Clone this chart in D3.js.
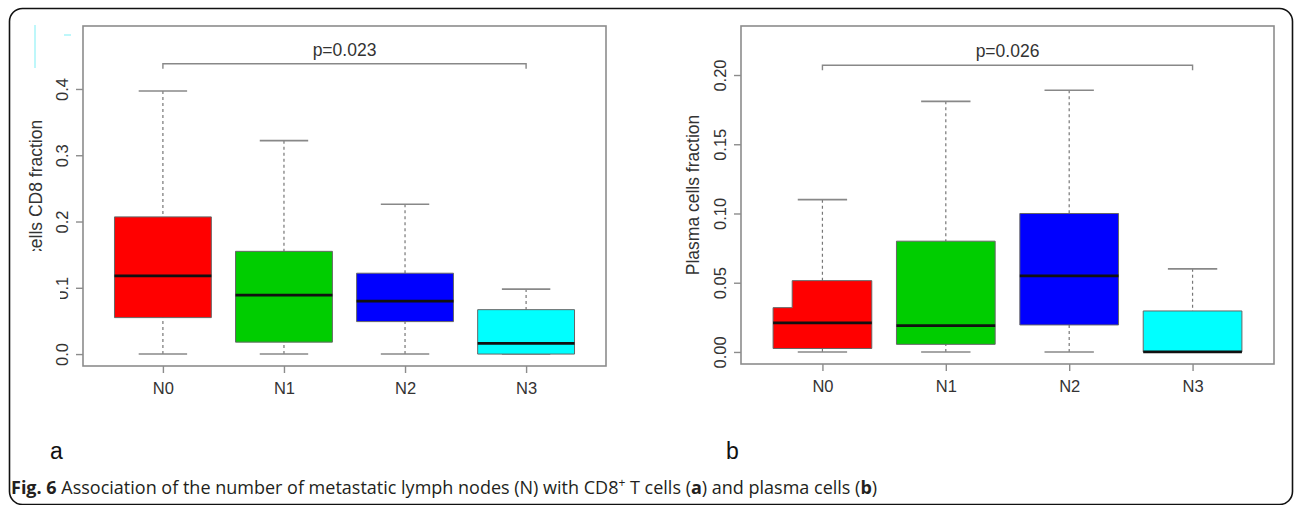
<!DOCTYPE html>
<html>
<head>
<meta charset="utf-8">
<script src="https://cdn.jsdelivr.net/npm/d3@7/dist/d3.min.js"></script>
<style>
  body { margin: 0; background: #fff; }
  svg { display: block; font-family: "Liberation Sans", Arial, sans-serif; }
</style>
</head>
<body>
<svg id="chart" width="1295" height="505"></svg>
<script>
// categories (number of metastatic lymph nodes)
var groups = ["N0", "N1", "N2", "N3"];
var boxColors = ["#ff0000", "#00cd00", "#0000ff", "#00ffff"];

// panel a: T cells CD8 fraction  [low whisker, q1, median, q3, high whisker]
var cd8Low    = [0, 0, 0, 0];
var cd8Q1     = [0.055, 0.018, 0.049, 0];
var cd8Median = [0.118, 0.089, 0.080, 0.016];
var cd8Q3     = [0.207, 0.155, 0.122, 0.067];
var cd8High   = [0.397, 0.322, 0.226, 0.098];
var cd8Ticks  = [0, 0.1, 0.2, 0.3, 0.4];

// panel b: Plasma cells fraction
var plasmaLow    = [0, 0, 0, 0];
var plasmaQ1     = [0.0025, 0.0055, 0.0195, 0];
var plasmaMedian = [0.021, 0.019, 0.055, 0];
var plasmaQ3     = [0.0515, 0.080, 0.100, 0.0296];
var plasmaHigh   = [0.110, 0.181, 0.189, 0.060];
var plasmaTicks  = [0, 0.05, 0.1, 0.15, 0.2];

// significance brackets (N0 vs N3)
var pLabels = ["p=0.023", "p=0.026"];
var bracketLevel = [0.438, 0.207];

var svg = d3.select("#chart");

// outer frame
svg.append("rect")
  .attr("x", 9.5).attr("y", 8.5).attr("width", 1283).attr("height", 496)
  .attr("rx", 13)
  .attr("fill", "none").attr("stroke", "#111").attr("stroke-width", 1.6);

// leftover cyan marks top-left
svg.append("line").attr("x1", 35).attr("x2", 35).attr("y1", 25).attr("y2", 68)
  .attr("stroke", "#a8f4f8").attr("stroke-width", 1.5);
svg.append("line").attr("x1", 64).attr("x2", 71).attr("y1", 35).attr("y2", 35)
  .attr("stroke", "#a8f4f8").attr("stroke-width", 1.5);

function drawPanel(opt) {
  var x = d3.scaleLinear().domain([0.34, 4.66]).range([opt.left, opt.right]);
  var y = d3.scaleLinear().domain(opt.yDomain).range([opt.bottom, opt.top]);
  var g = svg.append("g");
  var half = 0.4, capHalf = 0.2;

  var data = groups.map(function(name, i) {
    return { name: name, i: i + 1, low: opt.low[i], q1: opt.q1[i], med: opt.med[i],
             q3: opt.q3[i], high: opt.high[i], color: boxColors[i] };
  });

  // whiskers
  g.selectAll(".wh").data(data).enter().append("line")
    .attr("x1", function(d) { return x(d.i); }).attr("x2", function(d) { return x(d.i); })
    .attr("y1", function(d) { return y(d.high); }).attr("y2", function(d) { return y(d.q3); })
    .attr("stroke", "#777").attr("stroke-width", 1.2).attr("stroke-dasharray", "3,3");
  g.selectAll(".wl").data(data).enter().append("line")
    .attr("x1", function(d) { return x(d.i); }).attr("x2", function(d) { return x(d.i); })
    .attr("y1", function(d) { return y(d.low); }).attr("y2", function(d) { return y(d.q1); })
    .attr("stroke", "#777").attr("stroke-width", 1.2).attr("stroke-dasharray", "3,3");
  // caps
  ["high", "low"].forEach(function(k) {
    g.selectAll(".cap-" + k).data(data).enter().append("line")
      .attr("x1", function(d) { return x(d.i - capHalf); })
      .attr("x2", function(d) { return x(d.i + capHalf); })
      .attr("y1", function(d) { return y(d[k]); }).attr("y2", function(d) { return y(d[k]); })
      .attr("stroke", "#888").attr("stroke-width", 1.6);
  });

  // boxes (optionally with a cut-away corner as in the original image)
  g.selectAll(".box").data(data).enter().append("path")
    .attr("d", function(d) {
      var x0 = x(d.i - half), x1 = x(d.i + half), yt = y(d.q3), yb = y(d.q1);
      if (opt.notch && opt.notch.index === d.i - 1) {
        var xn = x(d.i - half + opt.notch.width), yn = y(opt.notch.level);
        return "M" + x0 + "," + yb + "L" + x0 + "," + yn + "L" + xn + "," + yn +
               "L" + xn + "," + yt + "L" + x1 + "," + yt + "L" + x1 + "," + yb + "Z";
      }
      return "M" + x0 + "," + yb + "L" + x0 + "," + yt + "L" + x1 + "," + yt + "L" + x1 + "," + yb + "Z";
    })
    .attr("fill", function(d) { return d.color; })
    .attr("stroke", "#666").attr("stroke-width", 1);

  // medians
  g.selectAll(".med").data(data).enter().append("line")
    .attr("x1", function(d) { return x(d.i - half); }).attr("x2", function(d) { return x(d.i + half); })
    .attr("y1", function(d) { return y(d.med); }).attr("y2", function(d) { return y(d.med); })
    .attr("stroke", "#111").attr("stroke-width", 2.8);

  // plot frame
  g.append("rect")
    .attr("x", opt.left).attr("y", opt.top)
    .attr("width", opt.right - opt.left).attr("height", opt.bottom - opt.top)
    .attr("fill", "none").attr("stroke", "#8c8c8c").attr("stroke-width", 1.6);

  // y axis (R style, rotated labels)
  var ya = g.append("g").attr("transform", "translate(" + opt.left + ",0)")
    .call(d3.axisLeft(y).tickValues(opt.ticks).tickFormat(d3.format(opt.fmt)).tickSize(7));
  ya.select(".domain").remove();
  ya.selectAll(".tick line").attr("stroke", "#8c8c8c").attr("stroke-width", 1.4);
  ya.selectAll(".tick text")
    .attr("x", 0).attr("y", -15).attr("dy", 0)
    .attr("transform", "rotate(-90)")
    .attr("text-anchor", "middle")
    .attr("fill", "#333").style("font-size", "16.5px")
    .style("font-family", "'Liberation Sans', Arial, sans-serif");

  // x axis
  var xa = g.append("g").attr("transform", "translate(0," + opt.bottom + ")")
    .call(d3.axisBottom(x).tickValues([1, 2, 3, 4]).tickFormat(function(d) { return groups[d - 1]; }).tickSize(7));
  xa.select(".domain").remove();
  xa.selectAll(".tick line").attr("stroke", "#8c8c8c").attr("stroke-width", 1.4);
  xa.selectAll(".tick text")
    .attr("y", 28).attr("dy", 0)
    .attr("fill", "#333").style("font-size", "16.5px")
    .style("font-family", "'Liberation Sans', Arial, sans-serif");

  // bracket N0 – N3
  var by = y(opt.bracket);
  g.append("path")
    .attr("d", "M" + x(1) + "," + (by + 5) + "L" + x(1) + "," + by + "L" + x(4) + "," + by + "L" + x(4) + "," + (by + 5))
    .attr("fill", "none").attr("stroke", "#888").attr("stroke-width", 1.4);
  g.append("text")
    .attr("x", (x(1) + x(4)) / 2).attr("y", by - 8)
    .attr("text-anchor", "middle").attr("fill", "#333")
    .style("font-size", "17.5px")
    .text(opt.pLabel);

  // y label (panel a's label is cut off in the original image)
  var labHolder = g.append("g");
  if (opt.labelCut) {
    var clipId = "clip-" + opt.id;
    svg.append("clipPath").attr("id", clipId).append("rect")
      .attr("x", 0).attr("y", 0).attr("width", opt.left).attr("height", opt.labelCut);
    labHolder.attr("clip-path", "url(#" + clipId + ")");
  }
  labHolder.append("text")
    .attr("transform", "translate(" + opt.labelX + "," + ((opt.top + opt.bottom) / 2) + ") rotate(-90)")
    .attr("text-anchor", "middle").attr("fill", "#333")
    .style("font-size", "17.5px")
    .text(opt.label);
  return { x: x, y: y };
}

drawPanel({
  id: "a", left: 83, right: 606, top: 26, bottom: 366,
  yDomain: [-0.018, 0.495], ticks: cd8Ticks, fmt: ".1f",
  low: cd8Low, q1: cd8Q1, med: cd8Median, q3: cd8Q3, high: cd8High,
  bracket: bracketLevel[0], pLabel: pLabels[0],
  label: "T cells CD8 fraction", labelX: 42, labelCut: 251
});

drawPanel({
  id: "b", left: 741, right: 1274, top: 26, bottom: 364,
  yDomain: [-0.0087, 0.2354], ticks: plasmaTicks, fmt: ".2f",
  low: plasmaLow, q1: plasmaQ1, med: plasmaMedian, q3: plasmaQ3, high: plasmaHigh,
  bracket: bracketLevel[1], pLabel: pLabels[1],
  label: "Plasma cells fraction", labelX: 699,
  notch: { index: 0, width: 0.155, level: 0.032 }
});

// the "0.1" label of panel a is partly wiped out in the original
svg.append("rect").attr("x", 45).attr("y", 290).attr("width", 15).attr("height", 11).attr("fill", "#fff");

// panel letters
svg.append("text").attr("x", 50).attr("y", 459).attr("fill", "#111")
  .style("font-size", "23px").text("a");
svg.append("text").attr("x", 726).attr("y", 459).attr("fill", "#111")
  .style("font-size", "23px").text("b");

// caption
var cap = svg.append("text").attr("x", 11).attr("y", 494)
  .attr("fill", "#231f20")
  .style("font-family", "'Open Sans', 'Noto Sans', sans-serif")
  .style("font-size", "18px");
cap.append("tspan").style("font-weight", "bold").text("Fig. 6");
cap.append("tspan").text(" Association of the number of metastatic lymph nodes (N) with CD8");
cap.append("tspan").attr("dy", -7).style("font-size", "12px").text("+");
cap.append("tspan").attr("dy", 7).text(" T cells (");
cap.append("tspan").style("font-weight", "bold").text("a");
cap.append("tspan").text(") and plasma cells (");
cap.append("tspan").style("font-weight", "bold").text("b");
cap.append("tspan").text(")");
</script>
</body>
</html>
